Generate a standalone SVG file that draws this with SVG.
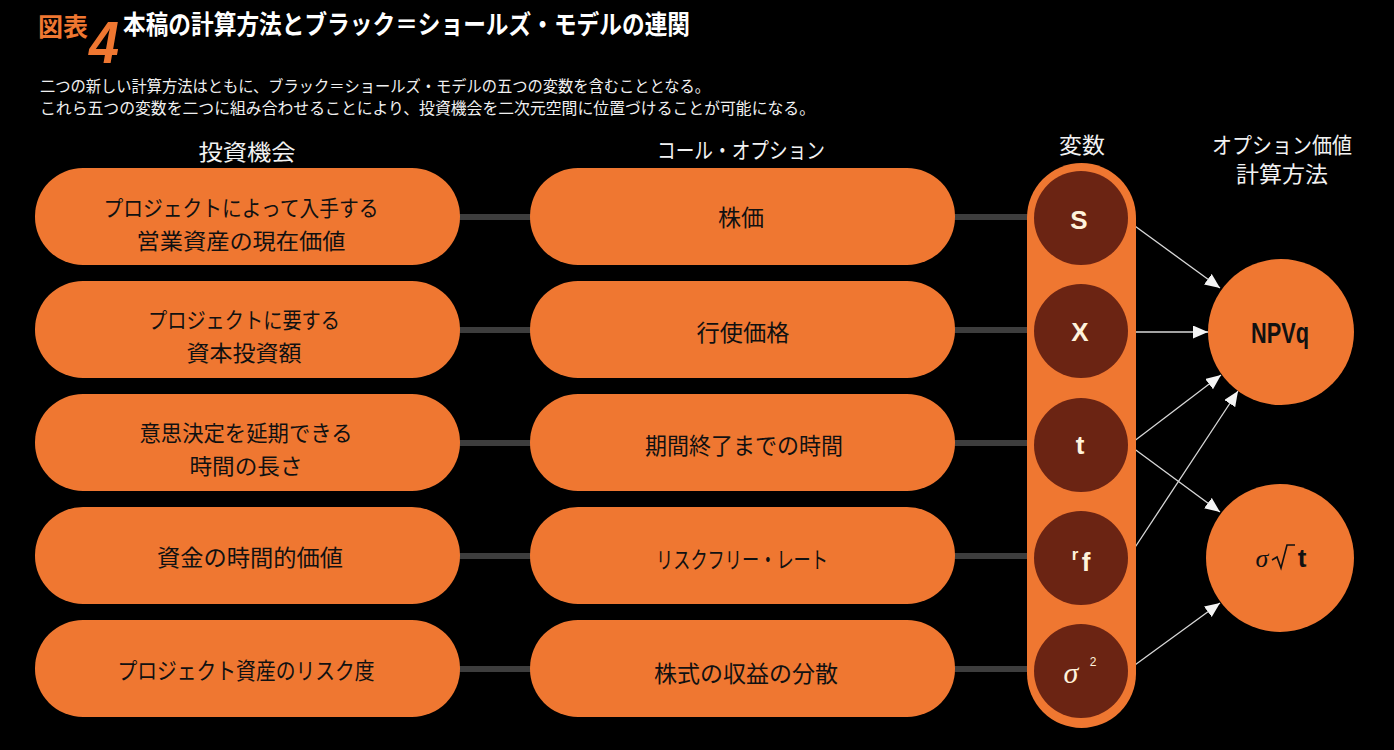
<svg xmlns="http://www.w3.org/2000/svg" width="1394" height="750" viewBox="0 0 1394 750">
<style>
.jp{font-family:"Noto Sans CJK JP","Noto Sans CJK SC",sans-serif}
.pill{fill:#EF7731}
.pt{font-family:"Noto Sans CJK JP",sans-serif;font-size:23px;fill:#111;text-anchor:middle;dominant-baseline:central}
.pt2{font-family:"Noto Sans CJK JP",sans-serif;font-size:22px;fill:#111;text-anchor:middle;dominant-baseline:central}
.hd{font-family:"Noto Sans CJK JP",sans-serif;font-size:22px;fill:#f2f2f2;text-anchor:middle;dominant-baseline:central}
.var{fill:#6B2413}
.vl{font-family:"Liberation Sans Narrow","Liberation Sans",sans-serif;font-weight:bold;fill:#FFF3DC;text-anchor:middle;dominant-baseline:central}
.conn{stroke:#3d3d3d;stroke-width:6}
.arr{stroke:#d8d8d8;stroke-width:1.3;fill:none;marker-end:url(#ah)}
</style>
<defs>
<marker id="ah" markerUnits="userSpaceOnUse" markerWidth="16" markerHeight="14" refX="15" refY="6.5" orient="auto">
<path d="M0,0 L15,6.5 L0,13 z" fill="#f4f4f4"/>
</marker>
</defs>
<rect width="1394" height="750" fill="#000"/>

<g id="title">
<text x="38" y="36" class="jp" font-size="25" font-weight="bold" fill="#EF7731" textLength="50" lengthAdjust="spacingAndGlyphs">図表</text>
<text x="89" y="63" font-family="Liberation Sans Narrow,Liberation Sans,sans-serif" font-size="60" font-weight="bold" font-style="italic" fill="#EF7731" textLength="30" lengthAdjust="spacingAndGlyphs">4</text>
<text x="123" y="34" class="jp" font-size="26" font-weight="bold" fill="#fff" textLength="567" lengthAdjust="spacingAndGlyphs">本稿の計算方法とブラック＝ショールズ・モデルの連関</text>
<text x="40" y="92" class="jp" font-size="16" fill="#f0f0f0" textLength="670" lengthAdjust="spacingAndGlyphs">二つの新しい計算方法はともに、ブラック＝ショールズ・モデルの五つの変数を含むこととなる。</text>
<text x="40" y="114" class="jp" font-size="16" fill="#f0f0f0" textLength="775" lengthAdjust="spacingAndGlyphs">これら五つの変数を二つに組み合わせることにより、投資機会を二次元空間に位置づけることが可能になる。</text>
</g>

<g id="headers">
<text x="247" y="150" class="hd" textLength="97" lengthAdjust="spacingAndGlyphs">投資機会</text>
<text x="741" y="148" class="hd" textLength="168" lengthAdjust="spacingAndGlyphs">コール・オプション</text>
<text x="1082" y="143" class="hd" textLength="46" lengthAdjust="spacingAndGlyphs">変数</text>
<text x="1282" y="143" class="hd" textLength="140" lengthAdjust="spacingAndGlyphs">オプション価値</text>
<text x="1282" y="172" class="hd" textLength="92" lengthAdjust="spacingAndGlyphs">計算方法</text>
</g>

<g id="connectors">
<line class="conn" x1="458" y1="217" x2="532" y2="217"/>
<line class="conn" x1="458" y1="330" x2="532" y2="330"/>
<line class="conn" x1="458" y1="443" x2="532" y2="443"/>
<line class="conn" x1="458" y1="556" x2="532" y2="556"/>
<line class="conn" x1="458" y1="669" x2="532" y2="669"/>
<line class="conn" x1="953" y1="217" x2="1037" y2="217"/>
<line class="conn" x1="953" y1="330" x2="1037" y2="330"/>
<line class="conn" x1="953" y1="443" x2="1037" y2="443"/>
<line class="conn" x1="953" y1="556" x2="1037" y2="556"/>
<line class="conn" x1="953" y1="669" x2="1037" y2="669"/>
<line class="arr" x1="1128" y1="221" x2="1220" y2="288"/>
<line class="arr" x1="1128" y1="332" x2="1208" y2="332"/>
<line class="arr" x1="1129" y1="445" x2="1221" y2="375"/>
<line class="arr" x1="1129" y1="445" x2="1220" y2="512"/>
<line class="arr" x1="1128" y1="558" x2="1238" y2="391"/>
<line class="arr" x1="1128" y1="670" x2="1220" y2="603"/>
</g>

<g id="inv1"><rect class="pill" x="35" y="168" width="425" height="97" rx="48" ry="48"/>
<text class="pt2" x="241" y="206" textLength="275" lengthAdjust="spacingAndGlyphs">プロジェクトによって入手する</text>
<text class="pt2" x="241" y="239" textLength="209" lengthAdjust="spacingAndGlyphs">営業資産の現在価値</text></g>
<g id="inv2"><rect class="pill" x="35" y="281" width="425" height="97" rx="48" ry="48"/>
<text class="pt2" x="244" y="318" textLength="192" lengthAdjust="spacingAndGlyphs">プロジェクトに要する</text>
<text class="pt2" x="244" y="351" textLength="115" lengthAdjust="spacingAndGlyphs">資本投資額</text></g>
<g id="inv3"><rect class="pill" x="35" y="394" width="425" height="97" rx="48" ry="48"/>
<text class="pt2" x="246" y="431" textLength="213" lengthAdjust="spacingAndGlyphs">意思決定を延期できる</text>
<text class="pt2" x="246" y="464" textLength="113" lengthAdjust="spacingAndGlyphs">時間の長さ</text></g>
<g id="inv4"><rect class="pill" x="35" y="507" width="425" height="97" rx="48" ry="48"/>
<text class="pt" x="250" y="556" textLength="186" lengthAdjust="spacingAndGlyphs">資金の時間的価値</text></g>
<g id="inv5"><rect class="pill" x="35" y="620" width="425" height="97" rx="48" ry="48"/>
<text class="pt" x="246" y="669" textLength="257" lengthAdjust="spacingAndGlyphs">プロジェクト資産のリスク度</text></g>

<g id="opt1"><rect class="pill" x="530" y="168" width="425" height="97" rx="48" ry="48"/>
<text class="pt" x="741" y="216" textLength="46" lengthAdjust="spacingAndGlyphs">株価</text></g>
<g id="opt2"><rect class="pill" x="530" y="281" width="425" height="97" rx="48" ry="48"/>
<text class="pt" x="743" y="331" textLength="93" lengthAdjust="spacingAndGlyphs">行使価格</text></g>
<g id="opt3"><rect class="pill" x="530" y="394" width="425" height="97" rx="48" ry="48"/>
<text class="pt" x="744" y="444" textLength="198" lengthAdjust="spacingAndGlyphs">期間終了までの時間</text></g>
<g id="opt4"><rect class="pill" x="530" y="507" width="425" height="97" rx="48" ry="48"/>
<text class="pt" x="742" y="558" textLength="172" lengthAdjust="spacingAndGlyphs">リスクフリー・レート</text></g>
<g id="opt5"><rect class="pill" x="530" y="620" width="425" height="97" rx="48" ry="48"/>
<text class="pt" x="746" y="672" textLength="184" lengthAdjust="spacingAndGlyphs">株式の収益の分散</text></g>

<g id="variables">
<rect class="pill" x="1027" y="163" width="109" height="565" rx="54.5" ry="54.5"/>
<g id="varS"><circle class="var" cx="1081" cy="218" r="47"/><text class="vl" x="1079" y="220" font-size="26">S</text></g>
<g id="varX"><circle class="var" cx="1081" cy="331" r="47"/><text class="vl" x="1080" y="332" font-size="26">X</text></g>
<g id="varT"><circle class="var" cx="1081" cy="445" r="47"/><text class="vl" x="1080" y="445" font-size="26">t</text></g>
<g id="varRf"><circle class="var" cx="1081" cy="558" r="47"/>
<text x="1075" y="560" font-family="Liberation Sans Narrow,Liberation Sans,sans-serif" font-weight="bold" font-size="17" fill="#FFF3DC" text-anchor="middle">r</text>
<text x="1086" y="571" font-family="Liberation Sans Narrow,Liberation Sans,sans-serif" font-weight="bold" font-size="26" fill="#FFF3DC" text-anchor="middle">f</text></g>
<g id="varSigma"><circle class="var" cx="1081" cy="671" r="47"/>
<text x="1071" y="683" font-family="Liberation Serif,serif" font-style="italic" font-size="30" fill="#FFF3DC" text-anchor="middle">σ</text>
<text x="1093" y="666" font-family="Liberation Sans Narrow,Liberation Sans,sans-serif" font-size="12" fill="#FFF3DC" text-anchor="middle">2</text></g>
</g>

<g id="npvq"><circle class="pill" cx="1281" cy="332" r="73"/>
<text x="1280" y="343" font-family="Liberation Sans Narrow,Liberation Sans,sans-serif" font-weight="bold" font-size="29" fill="#111" text-anchor="middle" textLength="58" lengthAdjust="spacingAndGlyphs">NPVq</text></g>
<g id="sigmasqrt"><circle class="pill" cx="1280" cy="558" r="74"/>
<text x="1262" y="567" font-family="Liberation Serif,serif" font-style="italic" font-size="26" fill="#111" text-anchor="middle">σ</text>
<path d="M1272,560 L1277,557 L1281,568 L1287,545 L1295,545" fill="none" stroke="#111" stroke-width="1.6"/>
<text x="1302" y="567" font-family="Liberation Sans Narrow,Liberation Sans,sans-serif" font-weight="bold" font-size="26" fill="#111" text-anchor="middle">t</text></g>
</svg>
